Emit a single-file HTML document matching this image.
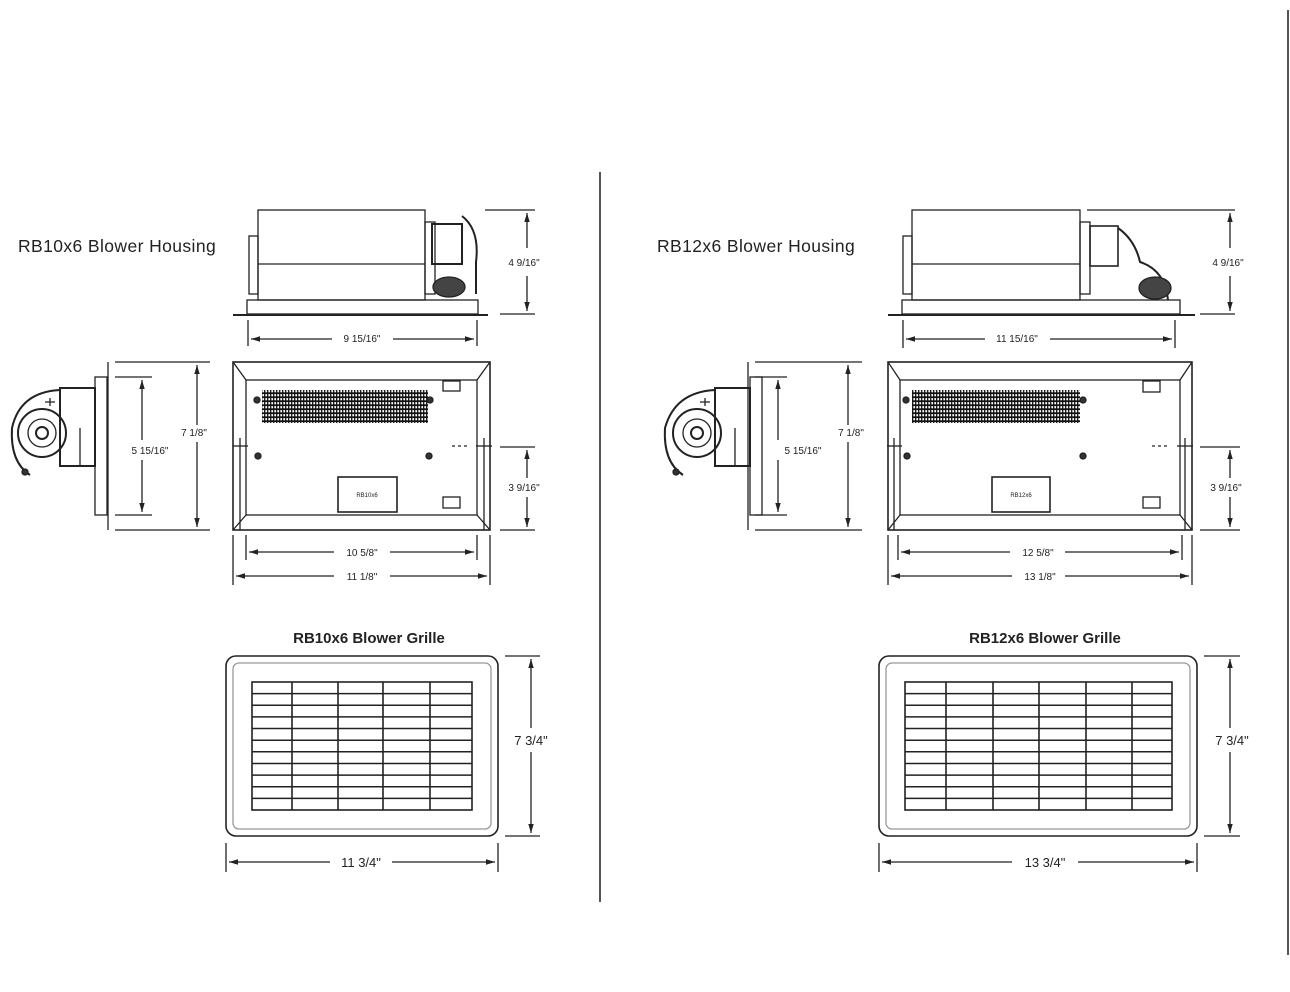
<!DOCTYPE html>
<html><head><meta charset="utf-8"><style>
html,body{margin:0;padding:0;background:#fff;}
svg{display:block;}
text{font-family:"Liberation Sans",sans-serif;fill:#222;}
</style></head><body>
<svg width="1290" height="992" viewBox="0 0 1290 992" xmlns="http://www.w3.org/2000/svg">
<defs>
<marker id="a" viewBox="0 0 10 10" refX="10" refY="5" markerWidth="7" markerHeight="7" orient="auto-start-reverse"><path d="M0,2 L10,5 L0,8z" fill="#222"/></marker>
<pattern id="louv" width="3" height="4" patternUnits="userSpaceOnUse"><rect width="3" height="4" fill="#fff"/><line x1="0.7" y1="0" x2="0.7" y2="4" stroke="#111" stroke-width="1.3"/><line x1="0" y1="1.2" x2="3" y2="1.2" stroke="#111" stroke-width="1.8"/></pattern>
</defs>
<g stroke="#222" fill="none" stroke-width="1.3">
<line x1="600" y1="172" x2="600" y2="902" stroke="#555" stroke-width="2"/>
<line x1="1288" y1="10" x2="1288" y2="955" stroke="#555" stroke-width="2"/>

<!-- LEFT top housing -->
<rect x="258" y="210" width="167" height="90"/>
<line x1="258" y1="264" x2="425" y2="264"/>
<rect x="249" y="236" width="9" height="58"/>
<rect x="247" y="300" width="231" height="14"/>
<line x1="233" y1="315" x2="488" y2="315" stroke-width="2"/>
<rect x="425" y="222" width="10" height="72"/>
<rect x="432" y="224" width="30" height="40" stroke-width="2"/>
<path d="M462,216 Q480,230 476,262 L476,294" stroke-width="2"/>
<ellipse cx="449" cy="287" rx="16" ry="10" fill="#444"/>
<line x1="485" y1="210" x2="535" y2="210"/>
<line x1="500" y1="314" x2="535" y2="314"/>
<line x1="527" y1="213" x2="527" y2="248" marker-start="url(#a)"/>
<line x1="527" y1="276" x2="527" y2="311" marker-end="url(#a)"/>
<line x1="248" y1="320" x2="248" y2="346"/>
<line x1="477" y1="320" x2="477" y2="346"/>
<line x1="251" y1="339" x2="332" y2="339" marker-start="url(#a)"/>
<line x1="393" y1="339" x2="474" y2="339" marker-end="url(#a)"/>
<rect x="233" y="362" width="257" height="168" stroke-width="1.6"/>
<rect x="246" y="380" width="231" height="135"/>
<line x1="233" y1="362" x2="246" y2="380"/><line x1="490" y1="362" x2="477" y2="380"/>
<line x1="233" y1="530" x2="246" y2="515"/><line x1="490" y1="530" x2="477" y2="515"/>
<rect x="262" y="390" width="166" height="33" fill="url(#louv)" stroke="none"/>
<circle cx="257" cy="400" r="3" fill="#333"/><circle cx="430" cy="400" r="3" fill="#333"/>
<circle cx="258" cy="456" r="3" fill="#333"/><circle cx="429" cy="456" r="3" fill="#333"/>
<rect x="338" y="477" width="59" height="35" stroke-width="1.6"/>
<rect x="443" y="381" width="17" height="10"/><rect x="443" y="497" width="17" height="11"/>
<line x1="240" y1="438" x2="240" y2="530"/><line x1="233" y1="446" x2="248" y2="446"/>
<line x1="484" y1="438" x2="484" y2="530"/><line x1="476" y1="446" x2="492" y2="446"/>
<line x1="452" y1="446" x2="470" y2="446" stroke-dasharray="3,3"/>
<line x1="115" y1="362" x2="210" y2="362"/><line x1="115" y1="530" x2="210" y2="530"/>
<line x1="197" y1="365" x2="197" y2="425" marker-start="url(#a)"/>
<line x1="197" y1="442" x2="197" y2="527" marker-end="url(#a)"/>
<line x1="115" y1="377" x2="152" y2="377"/><line x1="115" y1="515" x2="152" y2="515"/>
<line x1="142" y1="380" x2="142" y2="440" marker-start="url(#a)"/>
<line x1="142" y1="460" x2="142" y2="512" marker-end="url(#a)"/>
<line x1="500" y1="447" x2="535" y2="447"/><line x1="500" y1="530" x2="535" y2="530"/>
<line x1="527" y1="450" x2="527" y2="478" marker-start="url(#a)"/>
<line x1="527" y1="497" x2="527" y2="527" marker-end="url(#a)"/>
<line x1="233" y1="535" x2="233" y2="585"/><line x1="490" y1="535" x2="490" y2="585"/>
<line x1="246" y1="535" x2="246" y2="560"/><line x1="477" y1="535" x2="477" y2="560"/>
<line x1="249" y1="552" x2="334" y2="552" marker-start="url(#a)"/>
<line x1="390" y1="552" x2="474" y2="552" marker-end="url(#a)"/>
<line x1="236" y1="576" x2="334" y2="576" marker-start="url(#a)"/>
<line x1="390" y1="576" x2="487" y2="576" marker-end="url(#a)"/>
<rect x="95" y="377" width="12" height="138"/>
<line x1="108" y1="362" x2="108" y2="530"/>
<rect x="60" y="388" width="35" height="78" stroke-width="2"/>
<path d="M60,390 Q20,392 12,428 Q10,462 30,475" stroke-width="2"/>
<circle cx="42" cy="433" r="24" stroke-width="2"/>
<circle cx="42" cy="433" r="14"/>
<circle cx="42" cy="433" r="6" stroke-width="2"/>
<circle cx="25" cy="472" r="3" fill="#333"/>
<path d="M45,402 L55,402 M50,398 L50,406"/>
<path d="M80,428 L80,466"/>

<!-- grille left -->
<rect x="226" y="656" width="272" height="180" rx="10" stroke-width="1.6"/>
<rect x="233" y="663" width="258" height="166" rx="6" stroke="#999"/>
<rect x="252" y="682" width="220" height="128" stroke-width="1.6"/>
<path d="M252,693.6H472M252,705.3H472M252,716.9H472M252,728.5H472M252,740.2H472M252,751.8H472M252,763.5H472M252,775.1H472M252,786.7H472M252,798.4H472" stroke-width="1.5"/>
<line x1="292" y1="682" x2="292" y2="810" stroke-width="1.6"/>
<line x1="338" y1="682" x2="338" y2="810" stroke-width="1.6"/>
<line x1="383" y1="682" x2="383" y2="810" stroke-width="1.6"/>
<line x1="430" y1="682" x2="430" y2="810" stroke-width="1.6"/>
<line x1="505" y1="656" x2="540" y2="656"/><line x1="505" y1="836" x2="540" y2="836"/>
<line x1="531" y1="659" x2="531" y2="728" marker-start="url(#a)"/>
<line x1="531" y1="752" x2="531" y2="833" marker-end="url(#a)"/>
<line x1="226" y1="843" x2="226" y2="872"/><line x1="498" y1="843" x2="498" y2="872"/>
<line x1="229" y1="862" x2="330" y2="862" marker-start="url(#a)"/>
<line x1="392" y1="862" x2="495" y2="862" marker-end="url(#a)"/>

<!-- RIGHT -->
<rect x="912" y="210" width="168" height="90"/>
<line x1="912" y1="264" x2="1080" y2="264"/>
<rect x="903" y="236" width="9" height="58"/>
<rect x="902" y="300" width="278" height="14"/>
<line x1="888" y1="315" x2="1195" y2="315" stroke-width="2"/>
<rect x="1080" y="222" width="10" height="72"/>
<rect x="1090" y="226" width="28" height="40" stroke-width="1.6"/>
<path d="M1118,228 Q1135,240 1140,262 Q1165,270 1168,300" stroke-width="2"/>
<ellipse cx="1155" cy="288" rx="16" ry="11" fill="#444"/>
<line x1="1087" y1="210" x2="1235" y2="210"/>
<line x1="1200" y1="314" x2="1235" y2="314"/>
<line x1="1230" y1="213" x2="1230" y2="248" marker-start="url(#a)"/>
<line x1="1230" y1="276" x2="1230" y2="311" marker-end="url(#a)"/>
<line x1="903" y1="320" x2="903" y2="348"/><line x1="1175" y1="320" x2="1175" y2="348"/>
<line x1="906" y1="339" x2="985" y2="339" marker-start="url(#a)"/>
<line x1="1050" y1="339" x2="1172" y2="339" marker-end="url(#a)"/>
<rect x="888" y="362" width="304" height="168" stroke-width="1.6"/>
<rect x="900" y="380" width="280" height="135"/>
<line x1="888" y1="362" x2="900" y2="380"/><line x1="1192" y1="362" x2="1180" y2="380"/>
<line x1="888" y1="530" x2="900" y2="515"/><line x1="1192" y1="530" x2="1180" y2="515"/>
<rect x="912" y="390" width="168" height="33" fill="url(#louv)" stroke="none"/>
<circle cx="906" cy="400" r="3" fill="#333"/><circle cx="1083" cy="400" r="3" fill="#333"/>
<circle cx="907" cy="456" r="3" fill="#333"/><circle cx="1083" cy="456" r="3" fill="#333"/>
<rect x="992" y="477" width="58" height="35" stroke-width="1.6"/>
<rect x="1143" y="381" width="17" height="11"/><rect x="1143" y="497" width="17" height="11"/>
<line x1="894" y1="438" x2="894" y2="530"/><line x1="887" y1="446" x2="902" y2="446"/>
<line x1="1185" y1="438" x2="1185" y2="530"/><line x1="1177" y1="446" x2="1193" y2="446"/>
<line x1="1152" y1="446" x2="1170" y2="446" stroke-dasharray="3,3"/>
<line x1="755" y1="362" x2="862" y2="362"/><line x1="755" y1="530" x2="862" y2="530"/>
<line x1="848" y1="365" x2="848" y2="425" marker-start="url(#a)"/>
<line x1="848" y1="442" x2="848" y2="527" marker-end="url(#a)"/>
<line x1="755" y1="377" x2="787" y2="377"/><line x1="755" y1="515" x2="787" y2="515"/>
<line x1="778" y1="380" x2="778" y2="440" marker-start="url(#a)"/>
<line x1="778" y1="460" x2="778" y2="512" marker-end="url(#a)"/>
<line x1="1200" y1="447" x2="1240" y2="447"/><line x1="1200" y1="530" x2="1240" y2="530"/>
<line x1="1230" y1="450" x2="1230" y2="478" marker-start="url(#a)"/>
<line x1="1230" y1="497" x2="1230" y2="527" marker-end="url(#a)"/>
<line x1="888" y1="535" x2="888" y2="585"/><line x1="1192" y1="535" x2="1192" y2="585"/>
<line x1="898" y1="535" x2="898" y2="560"/><line x1="1182" y1="535" x2="1182" y2="560"/>
<line x1="901" y1="552" x2="1010" y2="552" marker-start="url(#a)"/>
<line x1="1065" y1="552" x2="1179" y2="552" marker-end="url(#a)"/>
<line x1="891" y1="576" x2="1012" y2="576" marker-start="url(#a)"/>
<line x1="1065" y1="576" x2="1189" y2="576" marker-end="url(#a)"/>
<rect x="750" y="377" width="12" height="138"/>
<line x1="748" y1="362" x2="748" y2="530"/>
<rect x="715" y="388" width="35" height="78" stroke-width="2"/>
<path d="M715,390 Q675,392 665,428 Q663,462 683,475" stroke-width="2"/>
<circle cx="697" cy="433" r="24" stroke-width="2"/>
<circle cx="697" cy="433" r="14"/>
<circle cx="697" cy="433" r="6" stroke-width="2"/>
<circle cx="676" cy="472" r="3" fill="#333"/>
<path d="M700,402 L710,402 M705,398 L705,406"/>
<line x1="735" y1="428" x2="735" y2="466"/>

<rect x="879" y="656" width="318" height="180" rx="10" stroke-width="1.6"/>
<rect x="886" y="663" width="304" height="166" rx="6" stroke="#999"/>
<rect x="905" y="682" width="267" height="128" stroke-width="1.6"/>
<path d="M905,693.6H1172M905,705.3H1172M905,716.9H1172M905,728.5H1172M905,740.2H1172M905,751.8H1172M905,763.5H1172M905,775.1H1172M905,786.7H1172M905,798.4H1172" stroke-width="1.5"/>
<line x1="946" y1="682" x2="946" y2="810" stroke-width="1.6"/>
<line x1="993" y1="682" x2="993" y2="810" stroke-width="1.6"/>
<line x1="1039" y1="682" x2="1039" y2="810" stroke-width="1.6"/>
<line x1="1086" y1="682" x2="1086" y2="810" stroke-width="1.6"/>
<line x1="1132" y1="682" x2="1132" y2="810" stroke-width="1.6"/>
<line x1="1204" y1="656" x2="1240" y2="656"/><line x1="1204" y1="836" x2="1240" y2="836"/>
<line x1="1230" y1="659" x2="1230" y2="728" marker-start="url(#a)"/>
<line x1="1230" y1="752" x2="1230" y2="833" marker-end="url(#a)"/>
<line x1="879" y1="843" x2="879" y2="872"/><line x1="1197" y1="843" x2="1197" y2="872"/>
<line x1="882" y1="862" x2="1012" y2="862" marker-start="url(#a)"/>
<line x1="1078" y1="862" x2="1194" y2="862" marker-end="url(#a)"/>
</g>

<g font-size="10" text-anchor="middle">
<text x="524" y="266">4 9/16"</text>
<text x="362" y="342">9 15/16"</text>
<text x="194" y="436">7 1/8"</text>
<text x="150" y="454">5 15/16"</text>
<text x="524" y="491">3 9/16"</text>
<text x="362" y="556">10 5/8"</text>
<text x="362" y="580">11 1/8"</text>
<text x="367" y="497" font-size="6">RB10x6</text>
<text x="1228" y="266">4 9/16"</text>
<text x="1017" y="342">11 15/16"</text>
<text x="851" y="436">7 1/8"</text>
<text x="803" y="454">5 15/16"</text>
<text x="1226" y="491">3 9/16"</text>
<text x="1038" y="556">12 5/8"</text>
<text x="1040" y="580">13 1/8"</text>
<text x="1021" y="497" font-size="6">RB12x6</text>
<text x="531" y="745" font-size="13">7 3/4"</text>
<text x="361" y="867" font-size="13">11 3/4"</text>
<text x="1232" y="745" font-size="13">7 3/4"</text>
<text x="1045" y="867" font-size="13">13 3/4"</text>
<text x="369" y="643" font-size="15" font-weight="bold" fill="#333">RB10x6 Blower Grille</text>
<text x="1045" y="643" font-size="15" font-weight="bold" fill="#333">RB12x6 Blower Grille</text>
</g>
<text x="18" y="252" font-size="17.5" letter-spacing="0.4">RB10x6 Blower Housing</text>
<text x="657" y="252" font-size="17.5" letter-spacing="0.4">RB12x6 Blower Housing</text>
</svg>
</body></html>
